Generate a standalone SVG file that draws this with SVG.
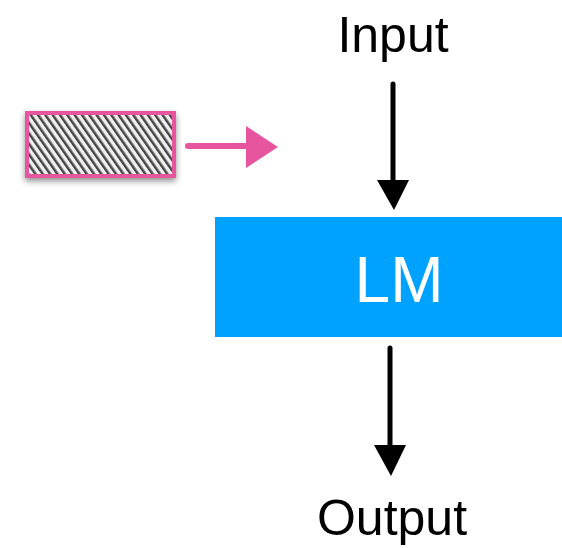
<svg xmlns="http://www.w3.org/2000/svg" width="562" height="548" viewBox="0 0 562 548">
<defs>
<style>
.lbl{font-family:"Liberation Sans",Arial,sans-serif;fill:#000;text-anchor:middle}
.blk{stroke:#000;stroke-width:5;stroke-linecap:round;fill:none}
</style>
<pattern id="hatch" width="6" height="6" patternUnits="userSpaceOnUse" patternTransform="rotate(-35)">
<rect width="6" height="6" fill="#f0f0f0"/>
<rect width="2.5" height="6" fill="#444"/>
</pattern>
<filter id="shadow" x="-20%" y="-30%" width="140%" height="160%">
<feDropShadow dx="0" dy="3" stdDeviation="3" flood-color="#000" flood-opacity="0.45"/>
</filter>
</defs>
<g id="doc">
<rect x="27" y="113" width="147" height="63" fill="url(#hatch)" stroke="#e8559f" stroke-width="4" filter="url(#shadow)"/>
</g>
<g id="input"><text class="lbl" x="393" y="52" font-size="50">Input</text></g>
<g id="lm">
<rect x="215" y="217" width="347" height="120" fill="#00a2ff"/>
<text x="399" y="302" font-family="&quot;Liberation Sans&quot;,Arial,sans-serif" font-size="64" fill="#fff" text-anchor="middle">LM</text>
</g>
<g id="output"><text class="lbl" x="392" y="535" font-size="50">Output</text></g>
<g id="connectors">
<line x1="188" y1="146" x2="250" y2="146" stroke="#e8559f" stroke-width="6" stroke-linecap="round"/>
<path d="M246,126 L278,147 L246,168 z" fill="#e8559f"/>
<line class="blk" x1="393" y1="84" x2="393" y2="185"/>
<path d="M377,180 L409,180 L394,210 z" fill="#000"/>
<line class="blk" x1="390" y1="348" x2="390" y2="450"/>
<path d="M374,445 L406,445 L391,476 z" fill="#000"/>
</g>
</svg>
